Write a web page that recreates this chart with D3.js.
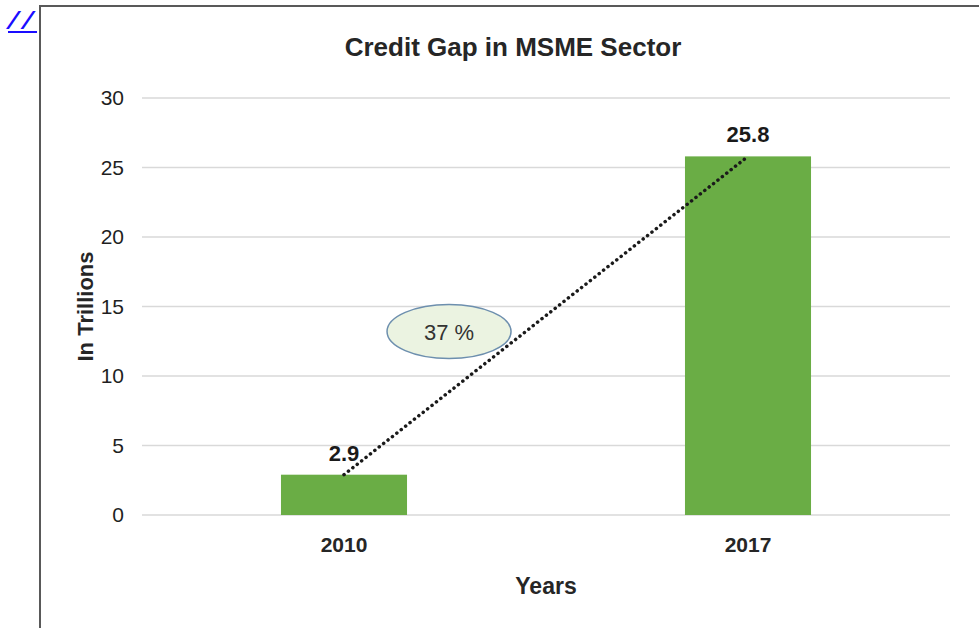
<!DOCTYPE html>
<html lang="en">
<head>
  <meta charset="UTF-8">
  <title>Credit Gap in MSME Sector</title>
  <script src="https://d3js.org/d3.v7.min.js"></script>
  <style>
    body { margin: 0; background: #fff; font-family: "Liberation Sans", Arial, sans-serif; }
    a.mark { position: absolute; left: 8px; top: 9px; color: #1a0dff; font-style: italic; font-size: 24px; line-height: 24px; letter-spacing: 3px; display: inline-block; transform: scaleX(1.5); transform-origin: left; font-family: "Liberation Sans", Arial, sans-serif; }
  </style>
</head>
<body>
  <a class="mark" href="#">//</a>
  <svg width="979" height="628"></svg>

  <script>
    const years = ["2010", "2017"];
    const values = [2.9, 25.8];
    const yTicks = [0, 5, 10, 15, 20, 25, 30];
    const growthLabel = "37 %";

    const svg = d3.select("svg");
    const margin = {top: 98, right: 29, bottom: 113, left: 142};
    const width = 979 - margin.left - margin.right,
          height = 628 - margin.top - margin.bottom;

    // chart frame
    svg.append("rect")
      .attr("x", 40).attr("y", 6)
      .attr("width", 960).attr("height", 640)
      .attr("fill", "none")
      .attr("stroke", "#595959")
      .attr("stroke-width", 2);

    const g = svg.append("g").attr("transform", `translate(${margin.left},${margin.top})`);

    const x = d3.scaleBand().domain(years).range([0, width]).paddingInner(0.688).paddingOuter(0.344);
    const y = d3.scaleLinear().domain([0, 30]).range([height, 0]);

    // gridlines
    g.selectAll(".grid")
      .data(yTicks)
      .enter().append("line")
      .attr("x1", 0).attr("x2", width)
      .attr("y1", d => y(d)).attr("y2", d => y(d))
      .attr("stroke", "#d9d9d9")
      .attr("stroke-width", 1.5);

    const yAxis = g.append("g").call(d3.axisLeft(y).tickValues(yTicks).tickSize(0).tickPadding(18));
    yAxis.select(".domain").remove();
    yAxis.selectAll("text")
      .attr("font-size", 21)
      .attr("font-family", "'Liberation Sans', sans-serif")
      .attr("fill", "#1f1f1f");

    const xAxis = g.append("g").attr("transform", `translate(0,${height})`)
      .call(d3.axisBottom(x).tickSize(0).tickPadding(22));
    xAxis.select(".domain").remove();
    xAxis.selectAll("text")
      .attr("font-size", 21)
      .attr("font-weight", "bold")
      .attr("font-family", "'Liberation Sans', sans-serif")
      .attr("fill", "#262626");

    const data = years.map((yr, i) => ({year: yr, value: values[i]}));

    g.selectAll(".bar")
      .data(data)
      .enter().append("rect")
      .attr("x", d => x(d.year))
      .attr("y", d => y(d.value))
      .attr("width", x.bandwidth())
      .attr("height", d => height - y(d.value))
      .attr("fill", "#6aad45");

    g.selectAll(".val")
      .data(data)
      .enter().append("text")
      .attr("x", d => x(d.year) + x.bandwidth() / 2)
      .attr("y", d => y(d.value) - 14)
      .attr("text-anchor", "middle")
      .attr("font-size", 22)
      .attr("font-weight", "bold")
      .attr("fill", "#1a1a1a")
      .text(d => d.value);

    // dotted trend line between bar tops
    const line = d3.line()
      .x(d => x(d.year) + x.bandwidth() / 2)
      .y(d => y(d.value));
    g.append("path")
      .datum(data)
      .attr("d", line)
      .attr("fill", "none")
      .attr("stroke", "#1a1a1a")
      .attr("stroke-width", 3.5)
      .attr("stroke-linecap", "round")
      .attr("stroke-dasharray", "0.1 5.5");

    // growth annotation
    const x0 = x(years[0]) + x.bandwidth() / 2, x1 = x(years[1]) + x.bandwidth() / 2;
    const cx = x0 + (x1 - x0) * 0.26, cy = y(13.2);
    g.append("ellipse")
      .attr("cx", cx).attr("cy", cy)
      .attr("rx", 62).attr("ry", 27)
      .attr("fill", "#ebf3e1")
      .attr("stroke", "#6d8fae")
      .attr("stroke-width", 1.5);
    g.append("text")
      .attr("x", cx).attr("y", cy + 8)
      .attr("text-anchor", "middle")
      .attr("font-size", 22)
      .attr("fill", "#333")
      .text(growthLabel);

    // titles
    svg.append("text")
      .attr("x", 513).attr("y", 56)
      .attr("text-anchor", "middle")
      .attr("font-size", 26)
      .attr("font-weight", "bold")
      .attr("fill", "#262626")
      .text("Credit Gap in MSME Sector");

    svg.append("text")
      .attr("transform", `translate(93,${margin.top + height / 2}) rotate(-90)`)
      .attr("text-anchor", "middle")
      .attr("font-size", 22)
      .attr("font-weight", "bold")
      .attr("fill", "#262626")
      .text("In Trillions");

    svg.append("text")
      .attr("x", margin.left + width / 2).attr("y", 594)
      .attr("text-anchor", "middle")
      .attr("font-size", 23)
      .attr("font-weight", "bold")
      .attr("fill", "#262626")
      .text("Years");
  </script>
</body>
</html>
